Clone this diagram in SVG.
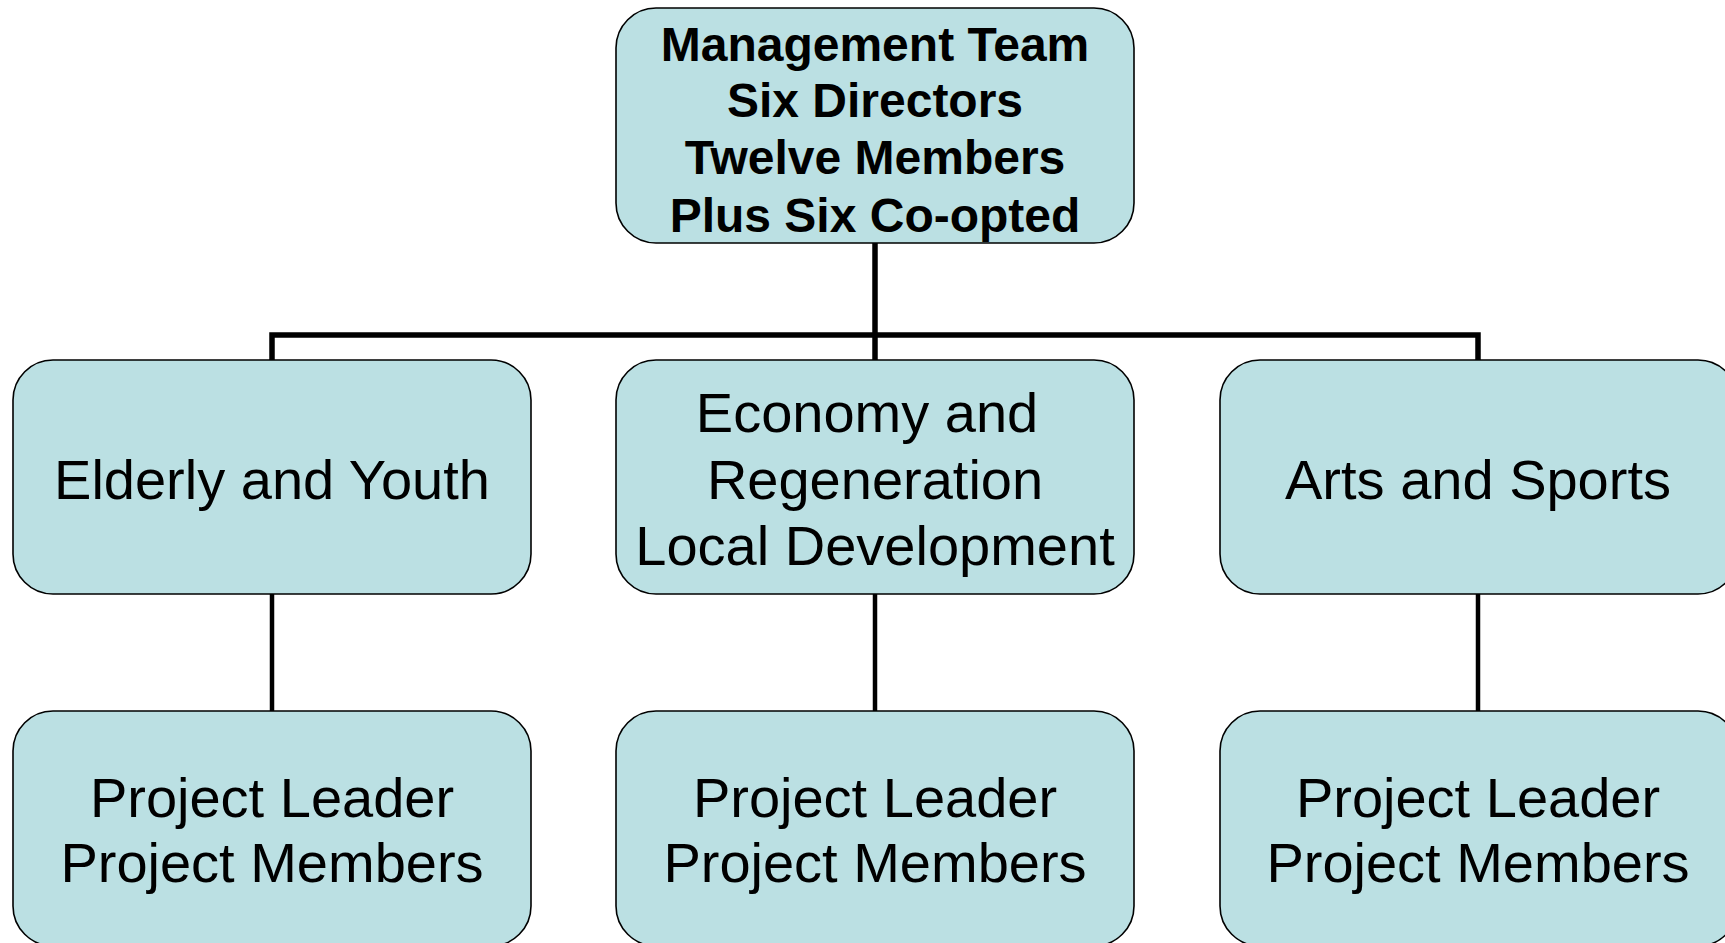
<svg xmlns="http://www.w3.org/2000/svg" width="1725" height="943" viewBox="0 0 1725 943">
<style>
.box{fill:#BBE0E3;stroke:#000;stroke-width:1.6}
.t{font-family:"Liberation Sans",Arial,sans-serif;font-size:56px;fill:#000;text-anchor:middle}
.b{font-family:"Liberation Sans",Arial,sans-serif;font-size:48px;font-weight:bold;fill:#000;text-anchor:middle}
.c{fill:none;stroke:#000;stroke-width:5.5}
.c2{fill:none;stroke:#000;stroke-width:4.5}
</style>
<rect width="1725" height="943" fill="#fff"/>
<g id="connectors">
<line class="c" x1="875" y1="243" x2="875" y2="360"/>
<polyline class="c" points="272,360 272,335 1478,335 1478,360"/>
<line class="c2" x1="272" y1="594" x2="272" y2="711"/>
<line class="c2" x1="875" y1="594" x2="875" y2="711"/>
<line class="c2" x1="1478" y1="594" x2="1478" y2="711"/>
</g>
<g id="management">
<rect class="box" x="616" y="8" width="518" height="235" rx="40"/>
<text class="b" x="875" y="61">Management Team</text>
<text class="b" x="875" y="117">Six Directors</text>
<text class="b" x="875" y="174">Twelve Members</text>
<text class="b" x="875" y="232">Plus Six Co-opted</text>
</g>
<g id="elderly">
<rect class="box" x="13" y="360" width="518" height="234" rx="40"/>
<text class="t" x="272" y="499">Elderly and Youth</text>
</g>
<g id="economy">
<rect class="box" x="616" y="360" width="518" height="234" rx="40"/>
<text class="t" x="867" y="432">Economy and</text>
<text class="t" x="875" y="499">Regeneration</text>
<text class="t" x="875" y="565">Local Development</text>
</g>
<g id="arts">
<rect class="box" x="1220" y="360" width="518" height="234" rx="40"/>
<text class="t" x="1478" y="499">Arts and Sports</text>
</g>
<g id="project1">
<rect class="box" x="13" y="711" width="518" height="235" rx="40"/>
<text class="t" x="272" y="817">Project Leader</text>
<text class="t" x="272" y="882">Project Members</text>
</g>
<g id="project2">
<rect class="box" x="616" y="711" width="518" height="235" rx="40"/>
<text class="t" x="875" y="817">Project Leader</text>
<text class="t" x="875" y="882">Project Members</text>
</g>
<g id="project3">
<rect class="box" x="1220" y="711" width="518" height="235" rx="40"/>
<text class="t" x="1478" y="817">Project Leader</text>
<text class="t" x="1478" y="882">Project Members</text>
</g>
</svg>
